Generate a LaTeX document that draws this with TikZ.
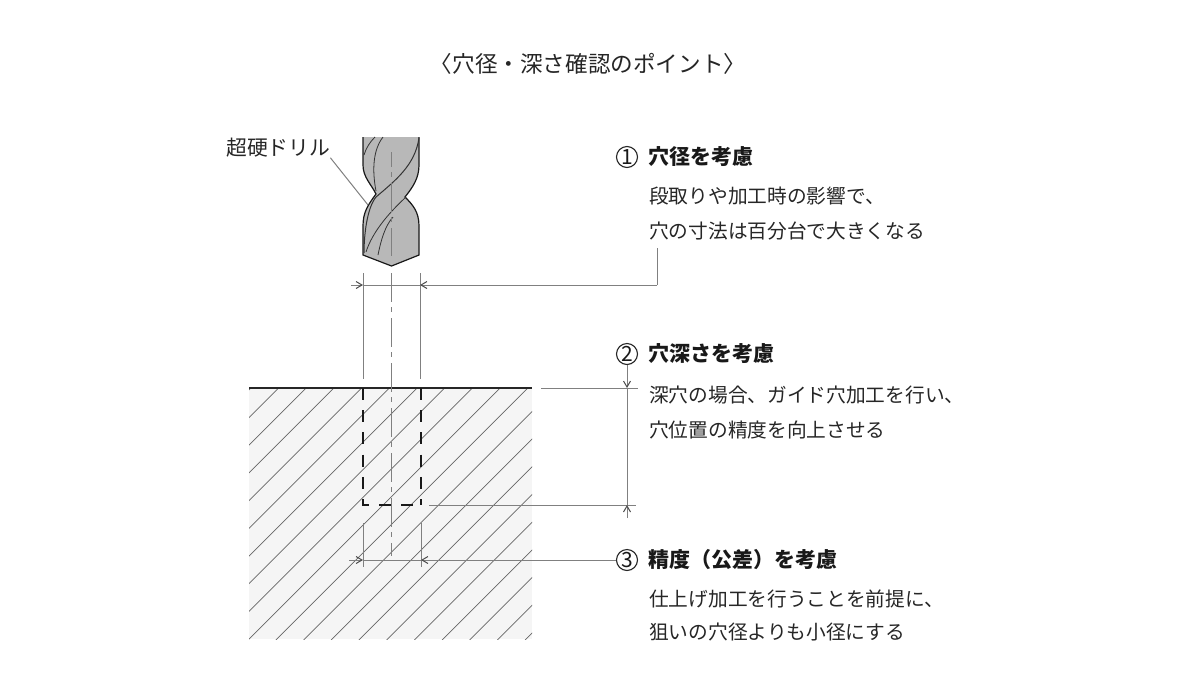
\documentclass[tikz,border=0pt]{standalone}
\usepackage{fontspec}
\setmainfont{Noto Sans CJK JP}
\usetikzlibrary{arrows.meta}
\tikzset{
  dimline/.style={draw=black!50, line width=1pt},
  thinarrow/.style={dimline, -{Straight Barb[length=6pt,width=7pt,black!70]}},
  body/.style={font=\fontsize{19.7}{22}\selectfont, anchor=west, inner sep=0pt, text=black!85},
  heading/.style={font=\fontsize{21}{23}\selectfont\bfseries, anchor=west, inner sep=0pt, text=black!90},
  numcircle/.style={circle, draw=black!85, line width=1.1pt, minimum size=21pt, inner sep=0pt, font=\fontsize{21}{22}\selectfont, text=black!90},
  center line/.style={draw=black!50, line width=1pt, dash pattern=on 29pt off 5pt on 5pt off 6pt},
  hole line/.style={draw=black!90, line width=2pt, dash pattern=on 12pt off 10.2pt},
}
\begin{document}
\begin{tikzpicture}[x=1pt, y=-1pt]
  \useasboundingbox (0,0) rectangle (1200,689);
  \fill[white] (0,0) rectangle (1200,689);
  % block
  \fill[black!4] (249,388) rectangle (532,639);
  \begin{scope}
    \clip (249,388) rectangle (532,639);
    \foreach \hk in {-6,...,13} {
      \pgfmathsetmacro\hs{805+27.7*\hk}
      \draw[black!60, line width=0.7pt] ({\hs-640},640) -- ({\hs-388},388);
    }
  \end{scope}
  \draw[black!85, line width=1.4pt] (249,388) -- (532,388);
  % drill
  \coordinate (tip) at (391.5,266);
  \filldraw[fill=black!28, draw=black!90, line width=1.2pt]
    (363,137) -- (363,165) .. controls (363,177) and (371,184) .. (376,194)
    .. controls (368,205) and (363,212) .. (363,226) -- (363,255) -- (tip) -- (419,255) -- (419,226)
    .. controls (419,212) and (413,205) .. (405,197) .. controls (413,187) and (419,178) .. (419,165) -- (419,137);
  \draw[black!80, line width=1pt]
    (419,138) .. controls (415,165) and (396,180) .. (376,197)
    .. controls (367,208) and (364,235) .. (364,253);
  \draw[black!80, line width=0.8pt]
    (375,137) .. controls (370,142) and (366,148) .. (364,155)
    (383,137) .. controls (373,150) and (372,170) .. (376,191)
    (406,197) .. controls (392,210) and (373,230) .. (366,252)
    (393,217) .. controls (385,226) and (381,240) .. (378,255);
  \draw[center line, dash phase=14pt] (391.5,152) -- (391.5,256);
  % outer hole lines
  \draw[dimline] (363,273) -- (363,379);
  \draw[dimline] (420,273) -- (420,379);
  \draw[center line] (391.5,273) -- (391.5,556);
  % hole outline
  \draw[hole line] (363,388) -- (363,505) -- (421,505);
  \draw[hole line] (421,388) -- (421,505);
  % lower extension
  \draw[dimline] (363,523) -- (363,567);
  \draw[dimline] (421,523) -- (421,567);
  % labels
  \node[inner sep=0pt, font=\fontsize{22.6}{24}\selectfont, text=black!85] (title) at (588,64) {〈穴径・深さ確認のポイント〉};
  \node[body, font=\fontsize{20.8}{22}\selectfont] (drilltext) at (226,148) {超硬ドリル};
  \node[numcircle] (numA) at (627,157) {1};
  \node[heading] (headA) at (648,157) {穴径を考慮};
  \node[body] (bodyAa) at (649,196) {段取りや加工時の影響で、};
  \node[body] (bodyAb) at (649,231) {穴の寸法は百分台で大きくなる};
  \node[numcircle] (numB) at (627,354) {2};
  \node[heading] (headB) at (648,354) {穴深さを考慮};
  \node[body] (bodyBa) at (649,395) {深穴の場合、ガイド穴加工を行い、};
  \node[body] (bodyBb) at (649,430) {穴位置の精度を向上させる};
  \node[numcircle] (numC) at (627,560) {3};
  \node[heading] (headC) at (648,560) {精度（公差）を考慮};
  \node[body] (bodyCa) at (649,599) {仕上げ加工を行うことを前提に、};
  \node[body] (bodyCb) at (649,632) {狙いの穴径よりも小径にする};
  % connectors
  \coordinate (drillend) at (368,205);
  \draw[dimline] (drilltext.south east) -- (drillend);
  \coordinate (dimAl) at (363,285);
  \coordinate (dimAr) at (420,285);
  \coordinate (elbowA) at (657,285);
  \draw[thinarrow] (351,285) -- (dimAl);
  \draw[dimline] (dimAl) -- (dimAr);
  \draw[thinarrow] (elbowA) -- (dimAr);
  \draw[dimline] (elbowA) -- (657,248);
  \coordinate (topB) at (627,388);
  \coordinate (botB) at (627,505);
  \draw[dimline] (541,388) -- (638,388);
  \draw[dimline] (429,505) -- (636,505);
  \draw[thinarrow] (numB) -- (topB);
  \draw[dimline] (topB) -- (botB);
  \draw[thinarrow] (627,518) -- (botB);
  \coordinate (dimCl) at (363,560);
  \coordinate (dimCr) at (421,560);
  \draw[thinarrow] (349,560) -- (dimCl);
  \draw[dimline] (dimCl) -- (dimCr);
  \draw[thinarrow] (numC) -- (dimCr);
\end{tikzpicture}
\end{document}
